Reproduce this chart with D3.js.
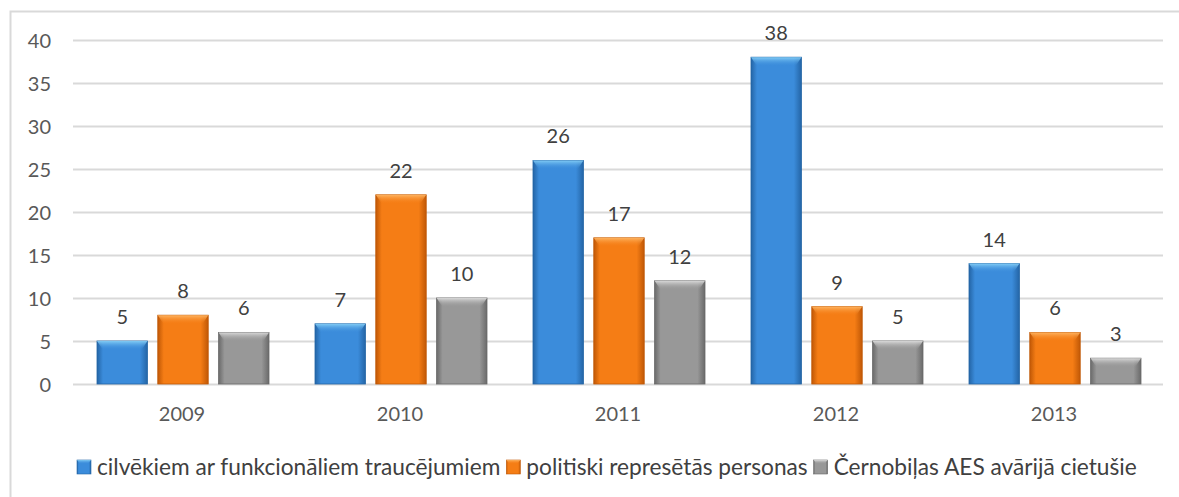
<!DOCTYPE html>
<html>
<head>
<meta charset="utf-8">
<script src="https://cdn.jsdelivr.net/npm/d3@7"></script>
<style>
  body { margin: 0; background: #fff; }
  svg { display: block; font-family: Lato, "Open Sans", sans-serif; }
  .grid line { stroke: #d9d9d9; stroke-width: 2; }
  .grid path { stroke-width: 0; }
  .axis text { fill: #595959; font-size: 20px; font-family: Lato, "Open Sans", sans-serif; }
</style>
</head>
<body>
<script>
const years = ["2009", "2010", "2011", "2012", "2013"];
const seriesNames = ["cilvēkiem ar funkcionāliem traucējumiem", "politiski represētās personas", "Černobiļas AES avārijā cietušie"];
const disabled = [5, 7, 26, 38, 14];
const repressed = [8, 22, 17, 9, 6];
const chernobyl = [6, 10, 12, 5, 3];
const yTicks = [0, 5, 10, 15, 20, 25, 30, 35, 40];

const colors = [
  {mid: "#3b8cdb", dark: "#2465a6", light: "#86d0f7"},
  {mid: "#f57d15", dark: "#c05806", light: "#ffb866"},
  {mid: "#989898", dark: "#6a6a6a", light: "#dedede"}
];

const W = 1179, H = 497;
const plot = {left: 73, right: 1163, top: 40, bottom: 384};

const svg = d3.select("body").append("svg").attr("width", W).attr("height", H);

// outer frame
svg.append("rect").attr("x", 10.5).attr("y", 11.5).attr("width", 1180).attr("height", 500)
  .attr("fill", "none").attr("stroke", "#d9d9d9").attr("stroke-width", 2);

const defs = svg.append("defs");
colors.forEach((c, i) => {
  const g = defs.append("linearGradient").attr("id", "side" + i).attr("x1", 0).attr("x2", 1).attr("y1", 0).attr("y2", 0);
  g.append("stop").attr("offset", "0%").attr("stop-color", c.dark);
  g.append("stop").attr("offset", "12%").attr("stop-color", c.mid);
  g.append("stop").attr("offset", "85%").attr("stop-color", c.mid);
  g.append("stop").attr("offset", "100%").attr("stop-color", c.dark);
  const t = defs.append("linearGradient").attr("id", "bevel" + i).attr("x1", 0).attr("x2", 0).attr("y1", 0).attr("y2", 1);
  t.append("stop").attr("offset", "0%").attr("stop-color", c.light).attr("stop-opacity", 0.95);
  t.append("stop").attr("offset", "100%").attr("stop-color", c.mid).attr("stop-opacity", 0);
});

const x = d3.scaleBand().domain(years).range([plot.left, plot.right]);
const xi = d3.scaleBand().domain([0, 1, 2]).range([24, 196]).paddingInner(0.17);
const y = d3.scaleLinear().domain([0, 40]).range([plot.bottom, plot.top]);

svg.append("g").attr("class", "grid")
  .attr("transform", "translate(" + plot.left + ",0)")
  .call(d3.axisLeft(y).tickValues(yTicks).tickSize(-(plot.right - plot.left)).tickFormat(""));

svg.append("g").attr("class", "axis")
  .attr("transform", "translate(" + plot.left + ",0)")
  .call(d3.axisLeft(y).tickValues(yTicks).tickSize(0).tickPadding(22))
  .call(g => g.select(".domain").remove())
  .selectAll("text").attr("dy", "0.35em");

svg.append("g").attr("class", "axis")
  .attr("transform", "translate(0," + plot.bottom + ")")
  .call(d3.axisBottom(x).tickSize(0).tickPadding(23))
  .call(g => g.select(".domain").remove());

const data = [];
[disabled, repressed, chernobyl].forEach((arr, s) => {
  arr.forEach((v, i) => data.push({year: years[i], s: s, v: v}));
});

const bars = svg.append("g").selectAll("g").data(data).enter().append("g")
  .attr("transform", d => "translate(" + (x(d.year) + xi(d.s)) + ",0)");

bars.append("rect")
  .attr("x", 0).attr("y", d => y(d.v))
  .attr("width", xi.bandwidth()).attr("height", d => plot.bottom - y(d.v))
  .attr("fill", d => "url(#side" + d.s + ")")
  .attr("stroke", d => colors[d.s].dark).attr("stroke-width", 0.8);

bars.append("path")
  .attr("d", d => {
    const t = y(d.v), w = xi.bandwidth(), h = Math.min(9, (plot.bottom - t) / 2);
    return "M0," + t + "L" + w + "," + t + "L" + (w - 6) + "," + (t + h) + "L6," + (t + h) + "Z";
  })
  .attr("fill", d => "url(#bevel" + d.s + ")");

bars.append("text")
  .attr("x", xi.bandwidth() / 2).attr("y", d => y(d.v) - 17)
  .attr("text-anchor", "middle")
  .attr("fill", "#404040").style("font-size", "20px")
  .text(d => d.v);

// legend, items placed one after another
const legend = svg.append("g").attr("transform", "translate(0,475)");
let lx = 77;
seriesNames.forEach((name, i) => {
  const item = legend.append("g").attr("transform", "translate(" + lx + ",0)");
  item.append("rect").attr("x", 0).attr("y", -15).attr("width", 14).attr("height", 14)
    .attr("fill", "url(#side" + i + ")").attr("stroke", colors[i].dark).attr("stroke-width", 0.6);
  item.append("path").attr("d", "M0,-15L14,-15L11,-11L3,-11Z").attr("fill", "url(#bevel" + i + ")");
  const t = item.append("text").attr("x", 20).attr("y", 0)
    .attr("fill", "#404040").style("font-size", "22.7px").text(name);
  lx += 20 + t.node().getComputedTextLength() + 6;
});
</script>
</body>
</html>
